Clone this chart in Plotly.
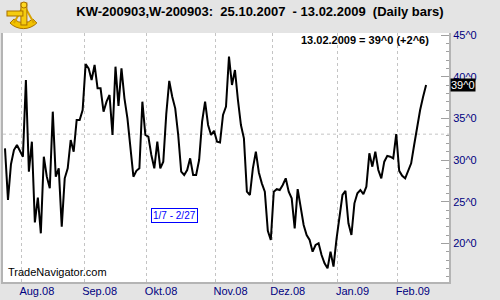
import base64
import pandas as pd
import plotly.graph_objects as go

# ---------------- data ----------------
TITLE = "KW-200903,W-200903:  25.10.2007  - 13.02.2009  (Daily bars)"
START_DATE = "2008-07-24"
END_DATE = "2009-02-13"
HOLIDAYS = ["2008-09-01", "2008-11-27", "2008-12-25", "2009-01-01", "2009-01-19"]

close_values = [
    31.4, 25.2, 29.5, 31.2, 31.8, 31.0, 30.4, 39.6, 28.6, 32.2,
    22.5, 25.5, 21.2, 30.4, 28.0, 26.6, 35.8, 28.0, 29.0, 22.0,
    27.8, 29.0, 32.4, 31.0, 34.8, 34.8, 36.0, 41.5, 41.0, 39.6,
    41.4, 38.6, 38.6, 35.8, 37.0, 37.8, 33.0, 41.2, 36.5, 41.0,
    37.4, 35.0, 31.8, 28.0, 28.7, 29.0, 37.0, 33.0, 32.8, 30.6,
    29.0, 32.2, 29.0, 29.8, 35.5, 39.5, 37.6, 36.2, 33.0, 28.6,
    28.2, 28.8, 30.2, 28.2, 28.2, 30.0, 34.6, 37.0, 34.2, 33.0,
    33.5, 32.2, 32.1, 35.4, 36.4, 42.4, 39.0, 40.8, 37.2, 34.2,
    32.6, 26.2, 25.8, 29.0, 31.0, 28.5, 27.2, 26.2, 21.5, 20.4,
    26.2, 26.5, 26.4, 27.0, 27.8, 26.2, 25.4, 21.8, 26.5, 24.2,
    22.2, 21.0, 20.4, 19.0, 19.8, 20.0, 18.6, 17.6, 17.0, 19.0,
    17.2, 20.5, 23.4, 25.8, 26.3, 22.4, 21.0, 24.8, 26.0, 26.4,
    25.9, 26.8, 30.8, 29.2, 31.0, 28.8, 27.8, 29.8, 30.5, 30.4,
    30.2, 33.1, 28.7, 28.1, 27.8, 28.6, 29.6, 31.8, 34.2, 36.0,
    37.6, 39.0,
]

month_labels = ["Aug.08", "Sep.08", "Okt.08", "Nov.08", "Dez.08", "Jan.09", "Feb.09"]
y_tick_values = [20, 25, 30, 35, 40, 45]
y_tick_labels = ["20^0", "25^0", "30^0", "35^0", "40^0", "45^0"]
y_minor_values = list(range(16, 46))
REF_LEVEL = 33.1
RANGE_LABEL = "1/7 - 2/27"
CHANGE_TEXT = "+2^6"
WATERMARK = "TradeNavigator.com"

# ---------------- build ----------------
dates = pd.bdate_range(START_DATE, END_DATE, freq="C", holidays=HOLIDAYS)
n = min(len(dates), len(close_values))
dates = dates[:n]
vals = close_values[:n]
xs = list(range(n))

# month boundaries (gridlines sit at slot start = index - 0.5)
tick_pos = []
for i in range(1, n):
    if dates[i].month != dates[i - 1].month:
        tick_pos.append(i - 0.5)
tick_pos = tick_pos[: len(month_labels)]

NAVY = "#000080"
GRID = "#c4c4c4"
AXIS = "#b4b4b4"
FONT = "Liberation Sans, Arial, sans-serif"

fig = go.Figure()
fig.add_trace(go.Scatter(
    x=xs, y=vals, mode="lines",
    line=dict(color="black", width=2),
    hovertext=[d.strftime("%d.%m.%Y") for d in dates],
    hoverinfo="text+y",
))

fig.add_hline(y=REF_LEVEL, line=dict(color=GRID, width=1, dash="3px,3px"), layer="below")

last_val = vals[-1]
last_txt = f"{int(last_val)}^{int(round((last_val - int(last_val)) * 8))}"

# simple sextant-like logo
svg = """<svg xmlns='http://www.w3.org/2000/svg' width='34' height='32' viewBox='0 0 34 32'>
<path d='M6 22 A19 19 0 0 0 33 22 L29 18 A14 14 0 0 1 10 18 Z' fill='#f2c200' stroke='#a87000' stroke-width='1'/>
<line x1='20' y1='4' x2='10' y2='22' stroke='#d9a400' stroke-width='2'/>
<line x1='20' y1='4' x2='30' y2='22' stroke='#d9a400' stroke-width='2'/>
<rect x='17' y='2' width='6' height='22' fill='#f5cc10' stroke='#a87000' stroke-width='1'/>
<rect x='3' y='10' width='16' height='5' fill='#f5cc10' stroke='#a87000' stroke-width='1'/>
<circle cx='20' cy='4' r='3' fill='#ffd820' stroke='#a87000' stroke-width='1'/>
</svg>"""
logo_src = "data:image/svg+xml;base64," + base64.b64encode(svg.encode()).decode()

L, R, T, B = 1, 51, 33, 18
PW, PH = 500 - L - R, 300 - T - B


def px(xpix):
    return (xpix - L) / PW


def py(ypix):
    return (300 - B - ypix) / PH


fig.update_layout(
    width=500, height=300,
    margin=dict(l=L, r=R, t=T, b=B, pad=0),
    paper_bgcolor="#e4e4e4",
    plot_bgcolor="white",
    showlegend=False,
    title=dict(text=f"<b>{TITLE}</b>", x=0.52, xref="container", xanchor="center",
               y=1 - 11 / 300, yref="container", yanchor="middle",
               font=dict(family=FONT, size=13, color="black")),
    xaxis=dict(
        range=[-0.667, 148.67],
        tickmode="array", tickvals=tick_pos, ticktext=month_labels,
        ticks="", showgrid=True, gridcolor=GRID, gridwidth=1, griddash="3px,3px",
        showline=True, linecolor=AXIS, linewidth=2, mirror=False,
        zeroline=False, ticklabelposition="outside right", ticklabelshift=-3,
        ticklabelstandoff=-2,
        tickfont=dict(family=FONT, size=11, color=NAVY),
    ),
    yaxis=dict(
        side="right", range=[15.36, 45.24],
        tickmode="array", tickvals=y_tick_values, ticktext=y_tick_labels,
        ticks="inside", ticklen=8, tickcolor="#a0a0a0", tickwidth=1,
        minor=dict(tickmode="array", tickvals=y_minor_values, ticks="inside",
                   ticklen=3, tickcolor="#a0a0a0", showgrid=False),
        showgrid=False, zeroline=False,
        showline=True, linecolor=AXIS, linewidth=2, mirror=True,
        tickfont=dict(family=FONT, size=11, color=NAVY),
    ),
    images=[dict(source=logo_src, xref="paper", yref="paper",
                 x=px(2), y=py(1), sizex=34 / PW, sizey=32 / PH,
                 xanchor="left", yanchor="top", sizing="stretch", layer="above")],
)

fig.add_annotation(
    text=f"<b>{dates[-1].strftime('%d.%m.%Y')} = {last_txt} ({CHANGE_TEXT})</b>",
    xref="paper", yref="paper", x=px(431), y=py(40), xanchor="right", yanchor="middle",
    showarrow=False, font=dict(family=FONT, size=11, color="black"),
)
fig.add_annotation(
    text=WATERMARK, xref="paper", yref="paper", x=px(4), y=py(280),
    xanchor="left", yanchor="bottom", showarrow=False,
    font=dict(family=FONT, size=11, color="black"),
)
fig.add_annotation(
    text=RANGE_LABEL, xref="paper", yref="paper", x=px(173), y=py(215),
    xanchor="center", yanchor="middle", showarrow=False,
    font=dict(family=FONT, size=10, color="#0000ff"),
    bgcolor="white", bordercolor="#0000ff", borderwidth=1, borderpad=1,
)
fig.add_annotation(
    text=last_txt, xref="paper", yref="y", x=px(450), y=last_val,
    xanchor="left", yanchor="middle", showarrow=False,
    font=dict(family=FONT, size=11, color="white"),
    bgcolor="black", borderpad=0,
)

fig.write_html("out.html")
